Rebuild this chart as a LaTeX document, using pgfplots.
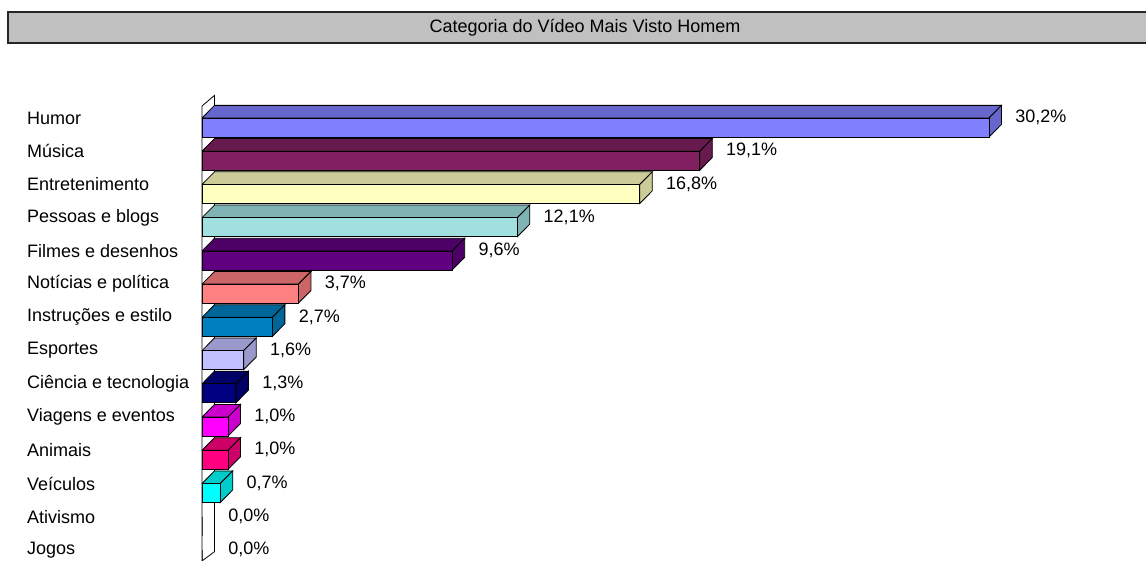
\documentclass[border=0pt]{standalone}
\usepackage{fontspec}
\setmainfont{Liberation Sans}
\usepackage{pgfplots}
\pgfplotsset{compat=1.18}
\definecolor{f0}{HTML}{8080FF}\definecolor{d0}{HTML}{6666CC}
\definecolor{f1}{HTML}{802060}\definecolor{d1}{HTML}{661A4D}
\definecolor{f2}{HTML}{FFFFC0}\definecolor{d2}{HTML}{CCCC99}
\definecolor{f3}{HTML}{A0E0E0}\definecolor{d3}{HTML}{80B3B3}
\definecolor{f4}{HTML}{600080}\definecolor{d4}{HTML}{4D0066}
\definecolor{f5}{HTML}{FF8080}\definecolor{d5}{HTML}{CC6666}
\definecolor{f6}{HTML}{0080C0}\definecolor{d6}{HTML}{006699}
\definecolor{f7}{HTML}{C0C0FF}\definecolor{d7}{HTML}{9999CC}
\definecolor{f8}{HTML}{000080}\definecolor{d8}{HTML}{000066}
\definecolor{f9}{HTML}{FF00FF}\definecolor{d9}{HTML}{CC00CC}
\definecolor{f10}{HTML}{FF0080}\definecolor{d10}{HTML}{CC0066}
\definecolor{f11}{HTML}{00FFFF}\definecolor{d11}{HTML}{00CCCC}
\definecolor{titlegray}{HTML}{C0C0C0}
\newcommand{\lbl}{\fontsize{18pt}{21pt}\selectfont}
\begin{document}
\begin{tikzpicture}
\path[use as bounding box] (0,0) rectangle (1146pt,561pt);
\clip (0,0) rectangle (1146pt,561pt);
\draw[fill=titlegray, draw=black!85, line width=1.8pt] (8pt,518pt) rectangle (1165pt,549pt);
\node[font=\lbl, inner sep=0pt] at (585pt,533pt) {Categoria do Vídeo Mais Visto Homem};
\begin{axis}[
  at={(202pt,443pt)}, anchor=origin,
  x=26.06pt, y=33.23pt, y dir=reverse,
  xmin=0, xmax=36, ymin=-1, ymax=13.4,
  clip=false,
  axis line style={draw=none},
  major tick length=0pt,
  xtick=\empty,
  ytick={0,1,2,3,4,5,6,7,8,9,10,11,12,13},
  yticklabels={Humor, Música, Entretenimento, Pessoas e blogs, Filmes e desenhos, Notícias e política, Instruções e estilo, Esportes, Ciência e tecnologia, Viagens e eventos, Animais, Veículos, Ativismo, Jogos},
  yticklabel style={anchor=west, inner sep=0pt, xshift=-175pt, font=\lbl},
  /pgf/number format/assume math mode=true,
  face/.style={draw=black, line width=0.8pt},
  front/.style={xbar, bar shift=0pt, bar width=19pt, draw=black, line width=0.8pt,
    point meta=x,
    nodes near coords={\pgfmathprintnumber[fixed,fixed zerofill,precision=1,use comma]{\pgfplotspointmeta}\%},
    every node near coord/.append style={anchor=west, inner sep=0pt, xshift=26pt, yshift=10pt, font=\lbl, text=black}},
]
% wall
\addplot[face, fill=white] coordinates {(0,-0.36) (0.48,-0.68) (0.48,13.05) (0,13.33) (0,-0.36)};
% top faces
\addplot[face, fill=d0] coordinates {(0,0) (30.2,0) (30.68,-0.38) (0.48,-0.38) (0,0)};
\addplot[face, fill=d1] coordinates {(0,1) (19.1,1) (19.58,0.62) (0.48,0.62) (0,1)};
\addplot[face, fill=d2] coordinates {(0,2) (16.8,2) (17.28,1.62) (0.48,1.62) (0,2)};
\addplot[face, fill=d3] coordinates {(0,3) (12.1,3) (12.58,2.62) (0.48,2.62) (0,3)};
\addplot[face, fill=d4] coordinates {(0,4) (9.6,4) (10.08,3.62) (0.48,3.62) (0,4)};
\addplot[face, fill=d5] coordinates {(0,5) (3.7,5) (4.18,4.62) (0.48,4.62) (0,5)};
\addplot[face, fill=d6] coordinates {(0,6) (2.7,6) (3.18,5.62) (0.48,5.62) (0,6)};
\addplot[face, fill=d7] coordinates {(0,7) (1.6,7) (2.08,6.62) (0.48,6.62) (0,7)};
\addplot[face, fill=d8] coordinates {(0,8) (1.3,8) (1.78,7.62) (0.48,7.62) (0,8)};
\addplot[face, fill=d9] coordinates {(0,9) (1.0,9) (1.48,8.62) (0.48,8.62) (0,9)};
\addplot[face, fill=d10] coordinates {(0,10) (1.0,10) (1.48,9.62) (0.48,9.62) (0,10)};
\addplot[face, fill=d11] coordinates {(0,11) (0.7,11) (1.18,10.62) (0.48,10.62) (0,11)};
% side faces
\addplot[face, fill=d0] coordinates {(30.2,0) (30.68,-0.38) (30.68,0.192) (30.2,0.572) (30.2,0)};
\addplot[face, fill=d1] coordinates {(19.1,1) (19.58,0.62) (19.58,1.192) (19.1,1.572) (19.1,1)};
\addplot[face, fill=d2] coordinates {(16.8,2) (17.28,1.62) (17.28,2.192) (16.8,2.572) (16.8,2)};
\addplot[face, fill=d3] coordinates {(12.1,3) (12.58,2.62) (12.58,3.192) (12.1,3.572) (12.1,3)};
\addplot[face, fill=d4] coordinates {(9.6,4) (10.08,3.62) (10.08,4.192) (9.6,4.572) (9.6,4)};
\addplot[face, fill=d5] coordinates {(3.7,5) (4.18,4.62) (4.18,5.192) (3.7,5.572) (3.7,5)};
\addplot[face, fill=d6] coordinates {(2.7,6) (3.18,5.62) (3.18,6.192) (2.7,6.572) (2.7,6)};
\addplot[face, fill=d7] coordinates {(1.6,7) (2.08,6.62) (2.08,7.192) (1.6,7.572) (1.6,7)};
\addplot[face, fill=d8] coordinates {(1.3,8) (1.78,7.62) (1.78,8.192) (1.3,8.572) (1.3,8)};
\addplot[face, fill=d9] coordinates {(1.0,9) (1.48,8.62) (1.48,9.192) (1.0,9.572) (1.0,9)};
\addplot[face, fill=d10] coordinates {(1.0,10) (1.48,9.62) (1.48,10.192) (1.0,10.572) (1.0,10)};
\addplot[face, fill=d11] coordinates {(0.7,11) (1.18,10.62) (1.18,11.192) (0.7,11.572) (0.7,11)};
% front faces with value labels
\addplot[front, fill=f0] coordinates {(30.2,0.286)};
\addplot[front, fill=f1] coordinates {(19.1,1.286)};
\addplot[front, fill=f2] coordinates {(16.8,2.286)};
\addplot[front, fill=f3] coordinates {(12.1,3.286)};
\addplot[front, fill=f4] coordinates {(9.6,4.286)};
\addplot[front, fill=f5] coordinates {(3.7,5.286)};
\addplot[front, fill=f6] coordinates {(2.7,6.286)};
\addplot[front, fill=f7] coordinates {(1.6,7.286)};
\addplot[front, fill=f8] coordinates {(1.3,8.286)};
\addplot[front, fill=f9] coordinates {(1.0,9.286)};
\addplot[front, fill=f10] coordinates {(1.0,10.286)};
\addplot[front, fill=f11] coordinates {(0.7,11.286)};
\addplot[front, fill=white] coordinates {(0,12.286)};
\addplot[front, fill=white] coordinates {(0,13.286)};
\end{axis}
\end{tikzpicture}
\end{document}
